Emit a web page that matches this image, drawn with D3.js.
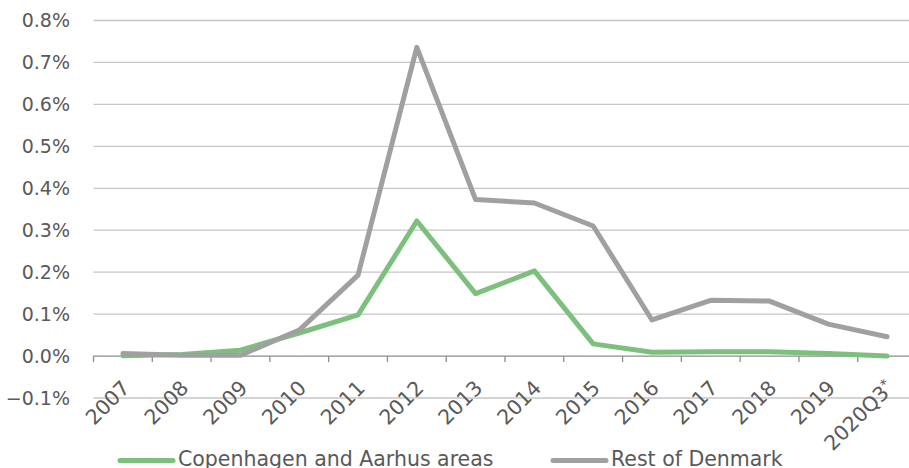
<!DOCTYPE html>
<html>
<head>
<meta charset="utf-8">
<script src="https://cdn.jsdelivr.net/npm/d3@7/dist/d3.min.js"></script>
<style>
  html, body { margin: 0; padding: 0; background: #fff; }
  svg { display: block; }
  text { font-family: "DejaVu Sans", Verdana, sans-serif; fill: #595959; }
</style>
</head>
<body>
<svg id="chart" width="909" height="468"></svg>
<script>
// Categories along the x axis
const years = ["2007","2008","2009","2010","2011","2012","2013","2014","2015","2016","2017","2018","2019","2020Q3"];

// Share of loans, in percent
const copenhagenAarhus = [0.001, 0.004, 0.014, 0.055, 0.098, 0.322, 0.149, 0.203, 0.029, 0.009, 0.010, 0.010, 0.006, 0.000];
const restOfDenmark    = [0.006, 0.002, 0.002, 0.062, 0.193, 0.736, 0.373, 0.365, 0.310, 0.086, 0.133, 0.131, 0.076, 0.046];

const seriesNames = ["Copenhagen and Aarhus areas", "Rest of Denmark"];
const seriesColors = ["#7dc07e", "#a0a0a0"];

const yTicks = [-0.1, 0.0, 0.1, 0.2, 0.3, 0.4, 0.5, 0.6, 0.7, 0.8];

const svg = d3.select("#chart");

const x = d3.scaleBand().domain(years).range([93.5, 916.5]);
const y = d3.scaleLinear().domain([-0.1, 0.8]).range([398, 20.5]);

const fmt = v => (v < 0 ? "\u2212" : "") + Math.abs(v).toFixed(1) + "%";

// Horizontal gridlines
svg.append("g")
  .selectAll("line")
  .data(yTicks.filter(v => v !== 0))
  .join("line")
  .attr("x1", 93.5).attr("x2", 909)
  .attr("y1", d => y(d)).attr("y2", d => y(d))
  .attr("stroke", "#c6c6c6").attr("stroke-width", 1.3);

// Y tick labels
svg.append("g")
  .selectAll("text")
  .data(yTicks)
  .join("text")
  .attr("x", 70)
  .attr("y", d => y(d))
  .attr("dy", "0.36em")
  .attr("text-anchor", "end")
  .attr("font-size", 19)
  .text(fmt);

// Zero axis with category boundary ticks
const xAxis = svg.append("g").attr("transform", `translate(0,${y(0)})`);
xAxis.append("line")
  .attr("x1", 93.5).attr("x2", 909)
  .attr("stroke", "#8c8c8c").attr("stroke-width", 1.3);
xAxis.selectAll("line.tick")
  .data(years)
  .join("line")
  .attr("class", "tick")
  .attr("x1", d => x(d)).attr("x2", d => x(d))
  .attr("y1", 0).attr("y2", 6)
  .attr("stroke", "#8c8c8c").attr("stroke-width", 1.3);

// Rotated category labels
const labels = svg.append("g")
  .selectAll("text")
  .data(years)
  .join("text")
  .attr("font-size", 20.5)
  .attr("text-anchor", "end")
  .attr("transform", d => `translate(${x(d) + x.bandwidth() / 2 - 2},${y(0) + 23}) rotate(-45)`)
  .attr("dy", "0.7em");
labels.append("tspan").text(d => d);
labels.filter(d => d === "2020Q3")
  .append("tspan")
  .attr("font-size", 14)
  .attr("dy", "-0.45em")
  .text("*");

// Series lines
const line = d3.line()
  .x((d, i) => x(years[i]) + x.bandwidth() / 2)
  .y(d => y(d));

const seriesData = [copenhagenAarhus, restOfDenmark];
svg.append("g")
  .selectAll("path")
  .data(seriesData)
  .join("path")
  .attr("fill", "none")
  .attr("stroke", (d, i) => seriesColors[i])
  .attr("stroke-width", 5)
  .attr("stroke-linejoin", "round")
  .attr("stroke-linecap", "round")
  .attr("d", line);

// Legend
const legendX = [120, 553];
const legend = svg.append("g")
  .selectAll("g")
  .data(seriesNames)
  .join("g")
  .attr("transform", (d, i) => `translate(${legendX[i]},460.5)`);
legend.append("line")
  .attr("x1", 0).attr("x2", 53)
  .attr("stroke", (d, i) => seriesColors[i])
  .attr("stroke-width", 5)
  .attr("stroke-linecap", "round");
legend.append("text")
  .attr("x", 58)
  .attr("y", 5)
  .attr("font-size", 20.5)
  .text(d => d);
</script>
</body>
</html>
